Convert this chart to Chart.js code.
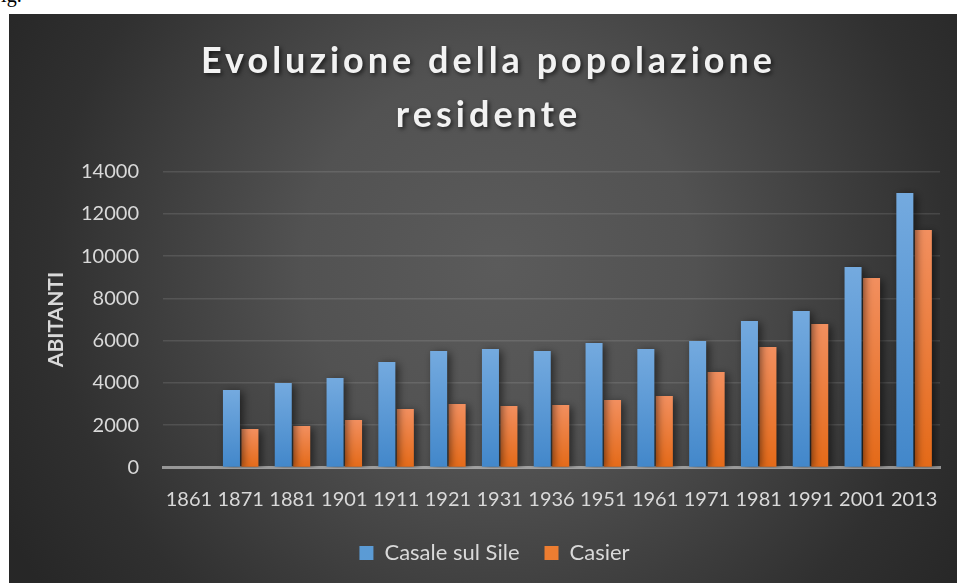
<!DOCTYPE html>
<html>
<head>
<meta charset="utf-8">
<script src="https://cdn.jsdelivr.net/npm/chart.js@4.4.0/dist/chart.umd.min.js"></script>
<style>
html, body { margin: 0; padding: 0; background: #fff; width: 957px; height: 583px; overflow: hidden; }
#fig { position: absolute; left: -10px; top: -16px; font: 20px 'Liberation Serif', serif; color: #000; }
#wrap { position: absolute; left: 9px; top: 14px; width: 948px; height: 569px; }
</style>
</head>
<body>
<div id="fig">Fig.</div>
<div id="wrap"><canvas id="popChart"></canvas></div>
<script>
const years = ['1861', '1871', '1881', '1901', '1911', '1921', '1931', '1936', '1951', '1961', '1971', '1981', '1991', '2001', '2013'];
const casale = [0, 3670, 4000, 4230, 4990, 5510, 5600, 5510, 5890, 5600, 5980, 6930, 7400, 9480, 12980];
const casier = [0, 1820, 1960, 2250, 2770, 3000, 2910, 2960, 3190, 3380, 4520, 5700, 6790, 8960, 11230];
const yMax = 14000;
const yStep = 2000;

const textColor = '#d9d9d9';

// vertical gradient per bar, lighter at the top
function barFill(top, bottom) {
    return function (c) {
        const chart = c.chart;
        if (!chart.chartArea || c.raw == null) return bottom;
        const y = chart.scales.y;
        const y0 = y.getPixelForValue(c.raw);
        const y1 = y.getPixelForValue(0);
        if (y1 - y0 < 1) return bottom;
        const g = chart.ctx.createLinearGradient(0, y0, 0, y1);
        g.addColorStop(0, top);
        g.addColorStop(1, bottom);
        return g;
    };
}

// shift a layout box sideways (title and legend sit a bit right of centre)
function nudge(box, dx, extra) {
    if (!box || box._nudged) return;
    const orig = box.draw.bind(box);
    box.draw = function (area) {
        const ctx = box.ctx;
        ctx.save();
        ctx.translate(dx, 0);
        if (extra) extra(ctx);
        orig(area);
        ctx.restore();
    };
    box._nudged = true;
}

const backgroundPlugin = {
    id: 'darkBackground',
    beforeDraw(chart) {
        const { ctx, width, height } = chart;
        const g = ctx.createRadialGradient(490, 250, 0, 490, 250, 560);
        g.addColorStop(0, '#5b5b5b');
        g.addColorStop(0.35, '#525252');
        g.addColorStop(0.8, '#303030');
        g.addColorStop(1, '#272727');
        ctx.save();
        ctx.fillStyle = g;
        ctx.fillRect(0, 0, width, height);
        ctx.restore();

        nudge(chart.titleBlock, 14, (c) => {
            c.letterSpacing = '4px';
            c.shadowColor = 'rgba(0,0,0,0.6)';
            c.shadowBlur = 4;
            c.shadowOffsetX = 2;
            c.shadowOffsetY = 2;
        });
        nudge(chart.legend, 20);
    },
    beforeDatasetsDraw(chart) {
        const ctx = chart.ctx;
        ctx.save();
        ctx.shadowColor = 'rgba(0,0,0,0.55)';
        ctx.shadowBlur = 8;
        ctx.shadowOffsetX = 3;
        ctx.shadowOffsetY = 2;
    },
    afterDatasetsDraw(chart) {
        chart.ctx.restore();
    }
};

const ctx = document.getElementById('popChart').getContext('2d');
new Chart(ctx, {
    type: 'bar',
    data: {
        labels: years,
        datasets: [
            {
                label: 'Casale sul Sile',
                data: casale,
                backgroundColor: barFill('#74aadf', '#4287ca'),
                categoryPercentage: 0.714,
                barPercentage: 0.92
            },
            {
                label: 'Casier',
                data: casier,
                backgroundColor: barFill('#f28f5f', '#e46a18'),
                categoryPercentage: 0.714,
                barPercentage: 0.92
            }
        ]
    },
    options: {
        responsive: true,
        maintainAspectRatio: false,
        animation: false,
        layout: { padding: { top: 0, left: 0, right: 17, bottom: 9 } },
        plugins: {
            title: {
                display: true,
                text: ['Evoluzione della popolazione', 'residente'],
                color: '#f2f2f2',
                font: { family: 'Lato', size: 36, weight: 'bold', lineHeight: 1.5 },
                padding: { top: 20, bottom: 29.5 }
            },
            legend: {
                position: 'bottom',
                labels: {
                    color: textColor,
                    font: { family: 'Lato', size: 22 },
                    boxWidth: 14,
                    boxHeight: 14,
                    padding: 25,
                    generateLabels(chart) {
                        const fills = ['#5b9bd5', '#ed7d31'];
                        return chart.data.datasets.map((ds, i) => ({
                            text: ds.label,
                            fillStyle: fills[i],
                            strokeStyle: fills[i],
                            lineWidth: 0,
                            fontColor: textColor,
                            datasetIndex: i
                        }));
                    }
                }
            },
            tooltip: { enabled: false }
        },
        scales: {
            x: {
                z: 1,
                grid: { display: false },
                border: { display: true, color: 'rgba(215,215,215,0.6)', width: 3 },
                ticks: {
                    color: textColor,
                    font: { family: 'Lato', size: 20 },
                    padding: 12,
                    autoSkip: false,
                    maxRotation: 0
                },
                afterFit(scale) { scale.height = 49.5; }
            },
            y: {
                min: 0,
                max: yMax,
                border: { display: false },
                grid: {
                    drawTicks: false,
                    color: (c) => c.tick.value === 0 ? 'rgba(0,0,0,0)' : 'rgba(255,255,255,0.11)',
                    lineWidth: 1.5
                },
                ticks: {
                    stepSize: yStep,
                    color: textColor,
                    font: { family: 'Lato', size: 20 },
                    padding: 24,
                    callback: (v) => String(v)
                },
                title: {
                    display: true,
                    text: 'ABITANTI',
                    color: textColor,
                    font: { family: 'Lato', size: 21, weight: 'bold' },
                    padding: { top: 35, bottom: 0 }
                },
                afterFit(scale) { scale.width = 154; }
            }
        }
    },
    plugins: [backgroundPlugin]
});
</script>
</body>
</html>
